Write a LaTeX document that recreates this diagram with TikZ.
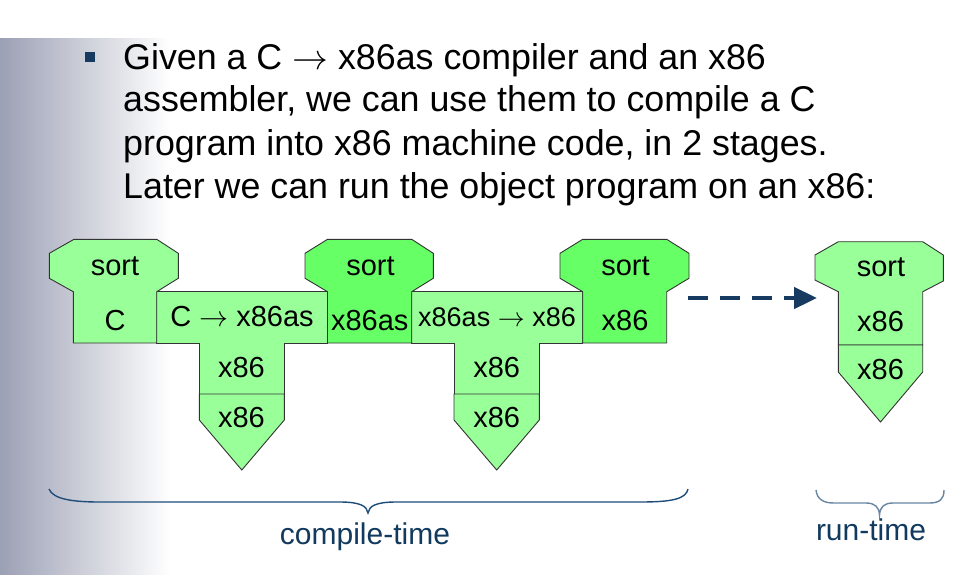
\RequirePackage{fix-cm}
\documentclass[tikz,border=0pt]{standalone}
\usepackage{fontspec}
\setmainfont{Liberation Sans}
\usetikzlibrary{arrows.meta}
\definecolor{lg}{HTML}{99FF99}
\definecolor{dg}{HTML}{66FF66}
\definecolor{edgec}{HTML}{333333}
\definecolor{navy}{HTML}{173A60}
\definecolor{bracedark}{HTML}{1F4D7A}
\definecolor{bracelite}{HTML}{6A86A3}
\definecolor{panel}{HTML}{9CA0B4}
\definecolor{labcol}{HTML}{123A5E}
\newcommand{\myarrow}{$\rightarrow$}
\begin{document}
\begin{tikzpicture}[x=1pt,y=-1pt,
  shapeline/.style={draw=edgec,line width=0.9pt,line join=miter},
  boxtxt/.style={font=\fontsize{29}{34}\selectfont,inner sep=0pt,anchor=base},
  smalltxt/.style={font=\fontsize{27}{32}\selectfont,inner sep=0pt,anchor=base},
  titletxt/.style={font=\fontsize{35.8}{42}\selectfont,inner sep=0pt,anchor=base west},
  labtxt/.style={font=\fontsize{30}{34}\selectfont,inner sep=0pt,anchor=base,text=labcol}]
% canvas
\useasboundingbox (0,0) rectangle (968,574);
\fill[white] (0,0) rectangle (968,574);
\shade[left color=panel,right color=white] (0,38) rectangle (170,574);
% bullet
\fill[navy] (85,51.7) rectangle (95,61.7);
% title
\node[titletxt] (t1) at (123,69) {Given a C \myarrow{} x86as compiler and an x86};
\node[titletxt] (t2) at (123,111.7) {assembler, we can use them to compile a C};
\node[titletxt] (t3) at (123,155) {program into x86 machine code, in 2 stages.};
\node[titletxt] (t4) at (123,198.3) {Later we can run the object program on an x86:};
% ---- compiler T1 (C -> x86as)
\draw[shapeline,fill=lg] (156.7,291.7) -- (327.5,291.7) -- (327.5,343) -- (284.3,343) -- (284.3,394) -- (199.3,394) -- (199.3,343) -- (156.7,343) -- cycle;
\draw[shapeline,fill=lg] (199.3,394) -- (284.3,394) -- (284.3,420) -- (241.8,470) -- (199.3,420) -- cycle;
% ---- compiler T2 (x86as -> x86)
\draw[shapeline,fill=lg] (411.7,291.7) -- (582.7,291.7) -- (582.7,343) -- (539.3,343) -- (539.3,394) -- (454,394) -- (454,343) -- (411.7,343) -- cycle;
\draw[shapeline,fill=lg] (454,394) -- (539.3,394) -- (539.3,420) -- (496.7,470) -- (454,420) -- cycle;
% ---- programs
\draw[shapeline,fill=lg] (74,239.3) -- (156.7,239.3) -- (178.3,253.3) -- (178.3,278.3) -- (156.7,291.7) -- (156.7,343) -- (73.3,343) -- (73.3,291.7) -- (49.3,278.3) -- (49.3,253.3) -- cycle;
\draw[shapeline,fill=dg] (327.5,239.3) -- (411.7,239.3) -- (433.3,253.3) -- (433.3,278.3) -- (411.7,291.7) -- (411.7,343) -- (327.5,343) -- (327.5,291.7) -- (305,278.3) -- (305,253.3) -- cycle;
\draw[shapeline,fill=dg] (582.7,239.3) -- (666.7,239.3) -- (689,253.3) -- (689,278.3) -- (666.7,291.7) -- (666.7,343) -- (582.7,343) -- (582.7,291.7) -- (560,278.3) -- (560,253.3) -- cycle;
% ---- run-time program and machine
\draw[shapeline,fill=lg] (838.3,241.7) -- (922.7,241.7) -- (943.3,255) -- (943.3,281) -- (922.7,291.7) -- (922.7,345) -- (838.3,345) -- (838.3,291.7) -- (815,280) -- (815,255) -- cycle;
\draw[shapeline,fill=lg] (838.3,345) -- (922.7,345) -- (922.7,372) -- (880.5,422) -- (838.3,372) -- cycle;
% ---- texts
\node[boxtxt] (p1s) at (115,275) {sort};
\node[boxtxt] (p1l) at (115,330.7) {C};
\node[boxtxt] (c1l) at (242,326.7) {C \myarrow{} x86as};
\node[boxtxt] (c1i) at (241.5,377.7) {x86};
\node[boxtxt] (m1) at (241.5,427) {x86};
\node[boxtxt] (p2s) at (370.5,275) {sort};
\node[boxtxt] (p2l) at (369.7,330) {x86as};
\node[smalltxt] (c2l) at (497,326.7) {x86as \myarrow{} x86};
\node[boxtxt] (c2i) at (496.7,377.7) {x86};
\node[boxtxt] (m2) at (496.7,427.5) {x86};
\node[boxtxt] (p3s) at (625.5,275) {sort};
\node[boxtxt] (p3l) at (625,330) {x86};
\node[boxtxt] (rs) at (881,276) {sort};
\node[boxtxt] (rl) at (880.5,331.7) {x86};
\node[boxtxt] (rm) at (880.5,379.3) {x86};
% ---- dashed arrow
\coordinate (arrA) at (688,298);
\coordinate (arrB) at (817,298);
\draw[navy,line width=4.6pt,dash pattern=on 20pt off 12pt,-{Triangle[length=23pt,width=21pt]}] (arrA) -- (arrB);
% ---- braces
\draw[bracedark,line width=1.4pt] (49,489) .. controls (53,499) and (72,502) .. (100,502) -- (340,502) .. controls (360,502) and (367,506) .. (368,513) .. controls (369,506) and (376,502) .. (396,502) -- (640,502) .. controls (672,502) and (686,499) .. (688,489);
\draw[bracelite,line width=1.4pt] (816,490) .. controls (817,499) and (823,503) .. (834,503) -- (866,503) .. controls (875,503) and (879,507) .. (879.5,515) .. controls (880,507) and (884,503) .. (893,503) -- (929,503) .. controls (940,503) and (944,499) .. (944,490);
\node[labtxt] (ct) at (365,544) {compile-time};
\node[labtxt] (rt) at (871,540) {run-time};
\end{tikzpicture}
\end{document}
